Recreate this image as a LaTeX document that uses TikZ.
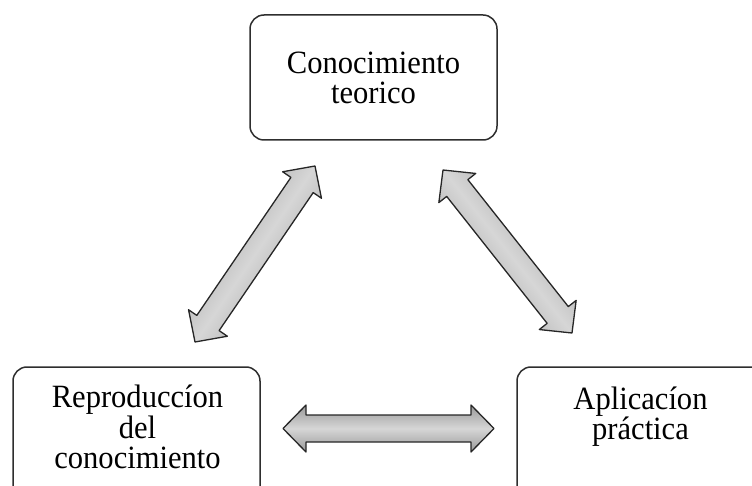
\documentclass[tikz,border=0pt]{standalone}
\usepackage{fontspec}
\setmainfont{Liberation Serif}[FakeStretch=0.94]
\usetikzlibrary{calc}
\definecolor{arrowedge}{rgb}{0.60,0.60,0.60}
\definecolor{arrowmid}{rgb}{0.84,0.84,0.84}
\definecolor{boxline}{rgb}{0.18,0.18,0.18}
\tikzset{
  box/.style={draw=boxline, line width=1.5pt, rounded corners=14pt, fill=white},
  lbl/.style={anchor=base, inner sep=0pt, text height=22pt, text depth=6pt,
    font=\fontsize{32.5}{30}\selectfont},
  fatarrow/.style={draw=black!85, line width=1.3pt, line join=round,
    top color=arrowedge, bottom color=arrowedge, middle color=arrowmid},
}
% #1 shading angle, #2 start coordinate, #3 end coordinate
\newcommand\fatarrow[3][0]{%
  \path ($(#2)!23pt!(#3)$) coordinate (#2-#3-a) ($(#3)!23pt!(#2)$) coordinate (#2-#3-b);
  \draw[fatarrow, shading angle=#1] (#2)
    -- ($(#2-#3-a)!23.5pt!90:(#3)$) -- ($(#2-#3-a)!13.5pt!90:(#3)$)
    -- ($(#2-#3-b)!13.5pt!-90:(#2)$) -- ($(#2-#3-b)!23.5pt!-90:(#2)$)
    -- (#3)
    -- ($(#2-#3-b)!23.5pt!90:(#2)$) -- ($(#2-#3-b)!13.5pt!90:(#2)$)
    -- ($(#2-#3-a)!13.5pt!-90:(#3)$) -- ($(#2-#3-a)!23.5pt!-90:(#3)$)
    -- cycle;}
\begin{document}
\begin{tikzpicture}[x=1pt,y=1pt]
\path[use as bounding box, clip] (0,0) rectangle (752,485);
% boxes
\node[box, minimum width=247pt, minimum height=125pt] (teo) at (373.5,407.5) {};
\node[box, minimum width=247pt, minimum height=150pt] (rep) at (136.5,43) {};
\node[box, minimum width=247pt, minimum height=150pt] (apl) at (640.5,43) {};
% labels
\node[lbl] (teo1) at (373.5,411.5) {Conocimiento};
\node[lbl] (teo2) at (373.5,381.5) {teorico};
\node[lbl] (rep1) at (137.5,78) {Reproduccíon};
\node[lbl] (rep2) at (137.5,47) {del};
\node[lbl] (rep3) at (137.5,17) {conocimiento};
\node[lbl] (apl1) at (640.5,76) {Aplicacíon};
\node[lbl] (apl2) at (640.5,46) {práctica};
% arrow ends
\coordinate (L1) at (195,143);
\coordinate (L2) at (315,319);
\coordinate (R1) at (443,315);
\coordinate (R2) at (572,152);
\coordinate (H1) at (283,56.5);
\coordinate (H2) at (494,56.5);
\fatarrow[55.7]{L1}{L2}
\fatarrow[-51.6]{R1}{R2}
\fatarrow[0]{H1}{H2}
\end{tikzpicture}
\end{document}
